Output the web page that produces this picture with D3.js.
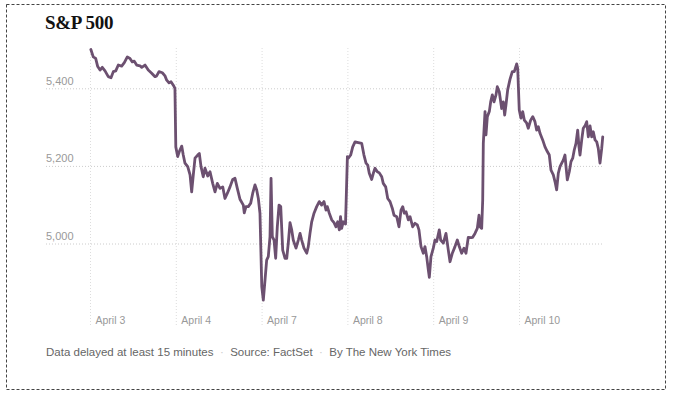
<!DOCTYPE html>
<html>
<head>
<meta charset="utf-8">
<script src="https://cdn.jsdelivr.net/npm/d3@7.9.0/dist/d3.min.js"></script>
<style>
  html, body { margin: 0; padding: 0; background: #fff; }
  svg { display: block; }
</style>
</head>
<body>
<svg id="chart"></svg>
<script>
// trading sessions shown on the x axis
const days = ["April 3", "April 4", "April 7", "April 8", "April 9", "April 10"];
const yTicks = [5000, 5200, 5400];

// [fraction of the session, index level]
const april3 = [[0.01,5500],[0.038,5481],[0.066,5477],[0.09,5456],[0.117,5447],[0.143,5454],[0.175,5445],[0.213,5430],[0.245,5427],[0.272,5443],[0.3,5445],[0.33,5460],[0.369,5457],[0.4,5466],[0.435,5481],[0.466,5477],[0.493,5468],[0.516,5470],[0.544,5460],[0.583,5458],[0.603,5454],[0.641,5460],[0.679,5447],[0.719,5439],[0.758,5430],[0.777,5432],[0.804,5443],[0.843,5440],[0.874,5432],[0.894,5421],[0.921,5414],[0.944,5417],[0.971,5408],[0.99,5400]];
const april4 = [[0,5249],[0.022,5224],[0.041,5237],[0.069,5251],[0.087,5228],[0.107,5207],[0.139,5198],[0.166,5177],[0.185,5133],[0.204,5177],[0.224,5220],[0.255,5228],[0.274,5232],[0.294,5198],[0.32,5172],[0.34,5194],[0.372,5174],[0.399,5185],[0.43,5155],[0.457,5133],[0.484,5155],[0.515,5142],[0.547,5146],[0.573,5116],[0.6,5129],[0.632,5146],[0.663,5165],[0.69,5168],[0.717,5142],[0.748,5114],[0.787,5099],[0.798,5079],[0.818,5095],[0.845,5095],[0.873,5104],[0.896,5129],[0.923,5151],[0.943,5138],[0.962,5116],[0.981,5078]];
const april7 = [[0.002,4889],[0.02,4854],[0.04,4906],[0.059,4957],[0.078,4966],[0.098,5018],[0.11,5168],[0.125,5018],[0.145,5009],[0.164,4962],[0.183,5043],[0.203,5099],[0.223,5095],[0.246,4983],[0.273,4962],[0.293,4962],[0.311,5001],[0.331,5054],[0.351,5035],[0.369,5009],[0.401,4988],[0.428,5009],[0.448,5026],[0.467,5009],[0.494,4988],[0.526,4975],[0.544,4992],[0.564,5026],[0.584,5056],[0.611,5078],[0.642,5095],[0.672,5108],[0.7,5099],[0.727,5108],[0.751,5086],[0.766,5095],[0.789,5078],[0.817,5061],[0.844,5054],[0.867,5043],[0.887,5056],[0.906,5035],[0.92,5069],[0.933,5039],[0.952,5056],[0.978,5050]];
const april8 = [[0,5224],[0.011,5220],[0.038,5228],[0.062,5249],[0.089,5262],[0.127,5260],[0.167,5258],[0.193,5228],[0.217,5207],[0.237,5202],[0.255,5181],[0.283,5165],[0.302,5181],[0.322,5194],[0.349,5185],[0.372,5182],[0.4,5172],[0.418,5155],[0.446,5146],[0.47,5116],[0.497,5108],[0.523,5091],[0.543,5073],[0.575,5069],[0.601,5043],[0.625,5086],[0.645,5095],[0.663,5078],[0.683,5082],[0.71,5061],[0.73,5069],[0.761,5043],[0.788,5052],[0.815,5048],[0.834,5035],[0.858,4992],[0.885,4975],[0.904,4992],[0.924,4966],[0.943,4932],[0.955,4913],[0.974,4966]];
const april9 = [[0.001,4988],[0.021,5009],[0.041,5005],[0.071,5035],[0.087,5009],[0.118,5001],[0.149,5026],[0.176,4983],[0.196,4953],[0.223,4975],[0.254,4992],[0.281,5009],[0.304,4992],[0.332,4975],[0.359,4988],[0.382,4975],[0.409,5016],[0.441,5015],[0.46,5016],[0.487,5026],[0.514,5039],[0.534,5073],[0.545,5043],[0.565,5039],[0.577,5112],[0.584,5258],[0.604,5340],[0.615,5280],[0.631,5327],[0.654,5340],[0.67,5365],[0.689,5383],[0.709,5365],[0.732,5383],[0.747,5404],[0.77,5391],[0.798,5348],[0.817,5365],[0.833,5331],[0.848,5357],[0.868,5396],[0.895,5423],[0.922,5443],[0.945,5443],[0.973,5463],[0.985,5451]];
const april10 = [[0.003,5344],[0.023,5323],[0.043,5340],[0.062,5318],[0.09,5310],[0.108,5297],[0.136,5318],[0.16,5327],[0.186,5314],[0.206,5292],[0.225,5301],[0.245,5284],[0.276,5267],[0.303,5249],[0.33,5237],[0.353,5228],[0.373,5189],[0.4,5177],[0.42,5159],[0.439,5138],[0.458,5181],[0.478,5198],[0.498,5207],[0.516,5215],[0.536,5228],[0.548,5198],[0.563,5164],[0.586,5185],[0.606,5211],[0.626,5220],[0.644,5241],[0.664,5258],[0.684,5292],[0.699,5249],[0.711,5228],[0.731,5267],[0.749,5297],[0.769,5303],[0.789,5314],[0.808,5275],[0.828,5303],[0.847,5275],[0.866,5288],[0.886,5267],[0.906,5262],[0.924,5245],[0.944,5207],[0.964,5245],[0.976,5275]];

const sessions = [april3, april4, april7, april8, april9, april10];
const series = sessions.flatMap((s, i) => s.map(d => ({ t: i + d[0], v: d[1] })));

const width = 675;
const height = 399;
const font = "'Liberation Sans', Arial, sans-serif";

const svg = d3.select('#chart')
  .attr('width', width)
  .attr('height', height);

// dashed frame
svg.append('rect')
  .attr('x', 6.5).attr('y', 4.5)
  .attr('width', 659).attr('height', 385)
  .attr('fill', 'none')
  .attr('stroke', '#444')
  .attr('stroke-dasharray', '3,2');

svg.append('text')
  .attr('x', 45).attr('y', 29)
  .attr('font-family', "'Liberation Serif', 'Times New Roman', serif")
  .attr('font-weight', 700)
  .attr('font-size', 19)
  .attr('letter-spacing', -0.3)
  .attr('fill', '#121212')
  .text('S&P 500');

const x = d3.scaleLinear().domain([0, 6]).range([90, 604.8]);
const y = d3.scaleLinear().domain([5000, 5400]).range([243.5, 88.3]);

const gridLeft = 46, gridRight = 603, gridTop = 48, gridBottom = 327;

// horizontal grid + value labels
const yAxis = svg.append('g')
  .attr('transform', `translate(${gridLeft},0)`)
  .call(d3.axisRight(y).tickValues(yTicks).tickSize(gridRight - gridLeft).tickFormat(d3.format(',')));
yAxis.select('.domain').remove();
yAxis.selectAll('line')
  .attr('stroke', '#ccc')
  .attr('stroke-dasharray', '1,2');
yAxis.selectAll('text')
  .attr('x', 0).attr('dy', -4)
  .attr('text-anchor', 'start')
  .attr('font-family', font)
  .attr('font-size', 11)
  .attr('fill', '#999');

// vertical day lines + labels
const xAxis = svg.append('g')
  .attr('transform', `translate(0,${gridTop})`)
  .call(d3.axisBottom(x).tickValues(d3.range(days.length)).tickSize(gridBottom - gridTop).tickFormat(i => days[i]));
xAxis.select('.domain').remove();
xAxis.selectAll('line')
  .attr('stroke', '#ddd')
  .attr('stroke-dasharray', '1,2');
xAxis.selectAll('text')
  .attr('x', 5).attr('y', 324 - gridTop).attr('dy', 0)
  .attr('text-anchor', 'start')
  .attr('font-family', font)
  .attr('font-size', 10.5)
  .attr('fill', '#999');

const line = d3.line()
  .x(d => x(d.t))
  .y(d => y(d.v));

svg.append('path')
  .datum(series)
  .attr('d', line)
  .attr('fill', 'none')
  .attr('stroke', '#6c5070')
  .attr('stroke-width', 2.8)
  .attr('stroke-linejoin', 'round')
  .attr('stroke-linecap', 'round');

// footer
const notes = ['Data delayed at least 15 minutes', 'Source: FactSet', 'By The New York Times'];
const foot = svg.append('text')
  .attr('x', 46).attr('y', 356)
  .attr('font-family', font)
  .attr('font-size', 11.5)
  .attr('fill', '#666')
  .style('white-space', 'pre');
notes.forEach((n, i) => {
  if (i > 0) foot.append('tspan').attr('fill', '#ccc').text('  \u00b7  ');
  foot.append('tspan').text(n);
});
</script>
</body>
</html>
